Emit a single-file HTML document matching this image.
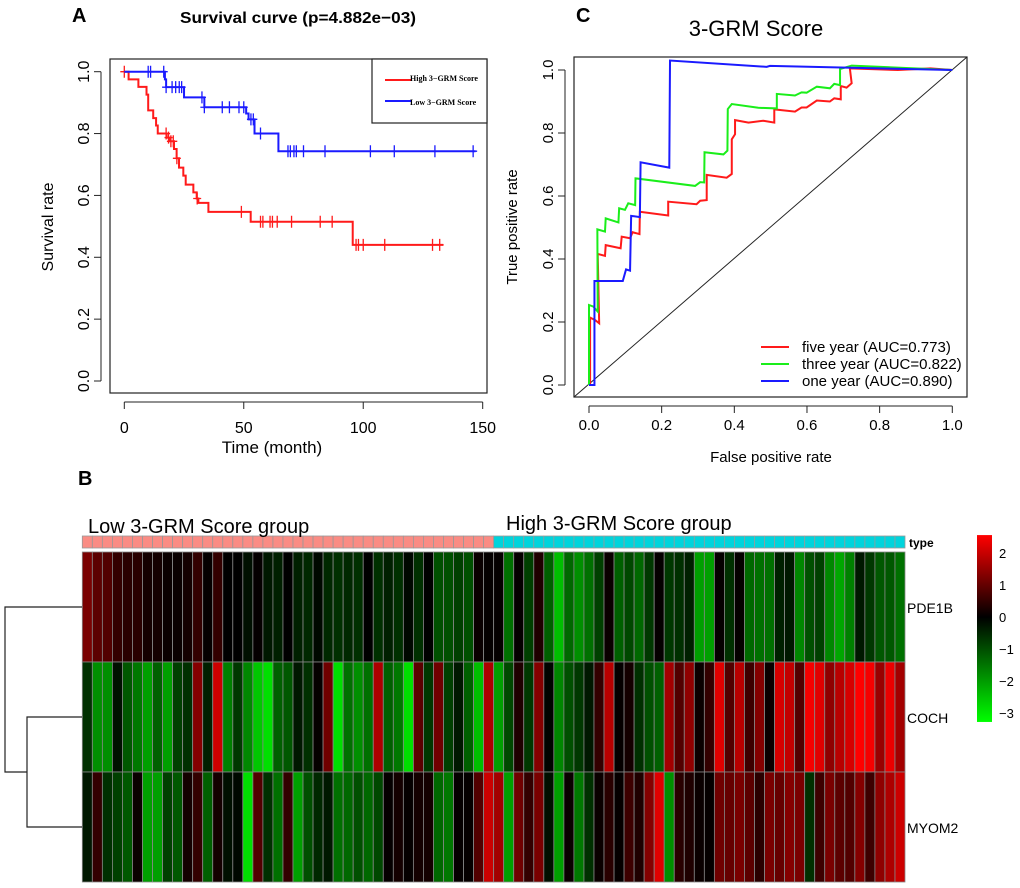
<!DOCTYPE html>
<html><head><meta charset="utf-8"><style>
body{margin:0;background:#fff}
svg{display:block;font-family:"Liberation Sans",sans-serif}
</style></head><body>
<svg id="fig" width="1020" height="888" viewBox="0 0 1020 888">
<g id="km"></g>
<g id="roc"></g>
<g id="hm"></g>
</svg>
<script>
// ---- KM data ----
const kmHighSteps = [[0,1],[1.8,0.975],[5.9,0.951],[9.3,0.926],[10,0.875],[12.1,0.85],[13.3,0.826],[14,0.80],[17.7,0.787],[19,0.775],[20.8,0.75],[21.9,0.72],[22.9,0.69],[24.7,0.664],[25.7,0.635],[28.9,0.61],[30.3,0.59],[31,0.576],[35.2,0.547],[52.9,0.515],[95.6,0.44]];
const kmHighEnd = 133.5;
const kmHighCensor = [0,17.5,18.5,19.5,20.5,22,30.5,49,57,58,61,62,64,70,82,87,97,98,100,109,129,132];
const kmLowSteps = [[0,1],[17,0.975],[17.5,0.95],[25,0.917],[33.5,0.885],[51,0.865],[52,0.846],[54.5,0.80],[64.5,0.743]];
const kmLowEnd = 147;
const kmLowCensor = [10,11,16.5,17.5,20,21.5,23,24,32.5,33.5,41,44,48,50,53,54,57,68.5,69.5,71,72,75,84,103,113,130,146];
const kmXTicks = [0,50,100,150];
const kmYTicks = [0,0.2,0.4,0.6,0.8,1.0];
// ---- ROC data ----
const rocFive = [[0,0],[0.003,0],[0.003,0.214],[0.017,0.206],[0.028,0.196],[0.024,0.416],[0.044,0.41],[0.046,0.444],[0.087,0.434],[0.09,0.471],[0.113,0.466],[0.12,0.485],[0.139,0.479],[0.14,0.55],[0.218,0.538],[0.218,0.582],[0.296,0.574],[0.306,0.585],[0.324,0.587],[0.324,0.667],[0.379,0.658],[0.393,0.67],[0.393,0.78],[0.402,0.796],[0.402,0.841],[0.439,0.833],[0.48,0.839],[0.51,0.833],[0.51,0.875],[0.567,0.868],[0.585,0.881],[0.599,0.881],[0.627,0.903],[0.663,0.9],[0.675,0.91],[0.693,0.907],[0.693,0.949],[0.709,0.944],[0.723,0.958],[0.718,1.005],[0.85,1.0],[0.94,1.005],[1,1]];
const rocThree = [[0,0],[0,0.254],[0.012,0.249],[0.024,0.233],[0.023,0.494],[0.044,0.487],[0.046,0.529],[0.081,0.516],[0.083,0.561],[0.099,0.556],[0.108,0.577],[0.127,0.571],[0.128,0.656],[0.292,0.632],[0.306,0.644],[0.317,0.643],[0.318,0.739],[0.37,0.732],[0.381,0.744],[0.382,0.876],[0.393,0.892],[0.466,0.88],[0.517,0.878],[0.517,0.924],[0.567,0.919],[0.585,0.929],[0.599,0.928],[0.627,0.947],[0.663,0.942],[0.675,0.956],[0.691,0.952],[0.691,1.003],[0.723,1.014],[1,1]];
const rocOne = [[0,0],[0.015,0],[0.015,0.33],[0.093,0.33],[0.102,0.367],[0.113,0.363],[0.116,0.537],[0.14,0.533],[0.142,0.707],[0.221,0.69],[0.223,1.03],[0.489,1.01],[0.498,1.013],[1,1]];
const rocTicks = [0,0.2,0.4,0.6,0.8,1.0];
const rocLabels = ["five year (AUC=0.773)","three year (AUC=0.822)","one year (AUC=0.890)"];
// ---- Heatmap data ----
const genes = ["PDE1B","COCH","MYOM2"];
const groupLow = 41, groupHigh = 41;
const pde1b = [1.2,0.9,0.8,0.5,0.4,0.4,0.2,0.2,0.1,0.1,0.2,0.5,0.05,0.5,0,0,-0.2,0.05,-0.3,-0.4,0,-0.4,-0.5,-0.1,-0.5,-0.6,-0.5,-0.6,0,-0.6,-0.4,-0.6,-0.1,-0.6,0,-1,-1,-0.8,-1,0.1,0.05,
 0.05,-1.4,0.05,-0.8,0.3,-1.2,-2.4,-1.3,-1.8,-1.4,-0.8,0.1,-1.2,-0.9,-1.3,-0.7,0.05,-0.7,-0.6,-0.4,-2,-2,0.05,-0.6,0.05,-1.3,-1.4,-1.4,-0.4,-0.3,-1.7,-1,-0.8,-1.7,-2.1,-1.6,-0.3,-0.7,-1.1,-1.1,-1.4];
const coch = [-0.6,-1.8,-1.8,-0.2,-1.1,-1.5,-2,-1.2,-2,-0.8,-0.6,1.3,-0.4,2,-1.6,-0.7,-1.7,-2.5,-2.8,-1.2,-1.1,-0.3,-0.6,0.05,1.1,-2.8,-1.4,-1.8,-1.4,1.7,-1.2,-1.5,-2.8,0.9,-0.7,1.1,-0.8,-0.3,-1.2,-2.4,1.7,
 -2,-0.9,0.3,-0.7,1.3,-0.05,-1.7,-1,-0.7,-0.3,0.5,1.8,0.05,0.2,-0.6,-1,-1.2,1.6,0.8,1.4,0.1,0.5,2.2,0.8,1.8,0.6,1.3,0.1,2.1,1.9,0.8,2.4,2.2,1.4,1.8,2.1,2.5,2.4,1.5,2.3,1.6];
const myom2 = [-0.3,0.5,-0.6,-0.8,-1.1,0.1,-2,-2,-0.8,-1.1,0.2,0.5,-1.2,0.2,-0.2,-0.1,-2.8,0.8,-0.6,-1.4,0.5,-2,-1,-0.5,-0.3,-1.4,-1.3,-1,-1.3,-0.9,0.05,0.2,0.05,0.2,0.2,-1.3,-1.5,0.05,0.05,0.8,2,
 1.6,-2,1.1,0.5,1.2,-0.2,-2,0.1,-1.5,-0.6,0.1,0.4,0.05,0.6,0.3,1.3,2.2,-1.8,0.4,0.3,0.1,0.05,1.1,1.0,1.2,0.9,0.4,1.2,1.0,1.3,1.2,-0.6,0.6,1.2,0.9,0.8,1.3,0.6,1.4,1.7,2.0];
const keyTicks = [2,1,0,-1,-2,-3];

const NS="http://www.w3.org/2000/svg";
function mk(parent,tag,attrs,text){const e=document.createElementNS(NS,tag);for(const k in attrs)e.setAttribute(k,attrs[k]);if(text!==undefined)e.textContent=text;parent.appendChild(e);return e;}

// ===== KM =====
(function(){
 const g=document.getElementById('km');
 const sx=t=>124.3+t*(358.4/150), sy=v=>381-v*309.3;
 let e;
 e=mk(g,'rect',{x:110,y:59,width:377,height:334,fill:'none',stroke:'#222','stroke-width':1.2});
 
 e=mk(g,'text',{x:72,y:22,'font-size':20,'font-weight':'bold'},'A');
 
 e=mk(g,'text',{x:298,y:23,'font-size':16,'font-weight':'bold','text-anchor':'middle',textLength:236,lengthAdjust:'spacingAndGlyphs'},'Survival curve (p=4.882e\u221203)');
 
 mk(g,'line',{x1:sx(0),x2:sx(150),y1:402,y2:402,stroke:'#222'});
 kmXTicks.forEach(t=>{mk(g,'line',{x1:sx(t),x2:sx(t),y1:402,y2:409,stroke:'#222'});
  e=mk(g,'text',{x:sx(t),y:433,'font-size':16,'text-anchor':'middle'},String(t));
  });
 mk(g,'line',{x1:101,x2:101,y1:sy(0),y2:sy(1),stroke:'#222'});
 kmYTicks.forEach(t=>{mk(g,'line',{x1:94,x2:101,y1:sy(t),y2:sy(t),stroke:'#222'});
  e=mk(g,'text',{x:0,y:0,'font-size':16,'text-anchor':'middle',transform:`translate(89,${sy(t)}) rotate(-90)`},t.toFixed(1));
  });
 e=mk(g,'text',{x:0,y:0,'font-size':16,'text-anchor':'middle',transform:'translate(53,227) rotate(-90)'},'Survival rate');
 
 e=mk(g,'text',{x:272,y:453,'font-size':17,'text-anchor':'middle'},'Time (month)');
 
 function curve(steps,end,cens,col,name){
  let d=`M${sx(steps[0][0])},${sy(steps[0][1])}`;
  for(let i=1;i<steps.length;i++){d+=`H${sx(steps[i][0])}V${sy(steps[i][1])}`;}
  d+=`H${sx(end)}`;
  const p=mk(g,'path',{d:d,fill:'none',stroke:col,'stroke-width':2});
  
  cens.forEach(t=>{let v=steps[0][1];steps.forEach(s=>{if(s[0]<=t)v=s[1];});
   const c=mk(g,'path',{d:`M${sx(t)-4},${sy(v)}h8M${sx(t)},${sy(v)-6}v12`,stroke:col,'stroke-width':1.3});
   });
 }
 curve(kmHighSteps,kmHighEnd,kmHighCensor,'#ff1a1a','high-score');
 curve(kmLowSteps,kmLowEnd,kmLowCensor,'#1a1aff','low-score');
 e=mk(g,'rect',{x:372,y:59,width:115,height:64,fill:'#fff',stroke:'#222','stroke-width':1.2});
 
 mk(g,'line',{x1:385,x2:412,y1:80,y2:80,stroke:'#ff1a1a','stroke-width':2});
 mk(g,'line',{x1:385,x2:412,y1:101,y2:101,stroke:'#1a1aff','stroke-width':2});
 e=mk(g,'text',{x:410,y:81,'font-size':8,'font-weight':'bold','font-family':'Liberation Serif, serif'},'High 3\u2212GRM Score');
 
 e=mk(g,'text',{x:410,y:105,'font-size':8,'font-weight':'bold','font-family':'Liberation Serif, serif'},'Low 3\u2212GRM Score');
 
})();

// ===== ROC =====
(function(){
 const g=document.getElementById('roc');
 const sx=v=>589+v*363.3, sy=v=>385-v*315;
 let e;
 e=mk(g,'rect',{x:574,y:57,width:393,height:340,fill:'none',stroke:'#222','stroke-width':1.2});
 
 e=mk(g,'text',{x:576,y:22,'font-size':20,'font-weight':'bold'},'C');
 
 e=mk(g,'text',{x:756,y:36,'font-size':22,'text-anchor':'middle'},'3-GRM Score');
 
 e=mk(g,'line',{x1:574,y1:397,x2:967,y2:57,stroke:'#222','stroke-width':1});
 
 mk(g,'line',{x1:sx(0),x2:sx(1),y1:406,y2:406,stroke:'#222'});
 mk(g,'line',{x1:565,x2:565,y1:sy(0),y2:sy(1),stroke:'#222'});
 rocTicks.forEach(t=>{
  mk(g,'line',{x1:sx(t),x2:sx(t),y1:406,y2:413,stroke:'#222'});
  e=mk(g,'text',{x:sx(t),y:430,'font-size':15,'text-anchor':'middle'},t.toFixed(1));
  
  mk(g,'line',{x1:558,x2:565,y1:sy(t),y2:sy(t),stroke:'#222'});
  e=mk(g,'text',{x:0,y:0,'font-size':15,'text-anchor':'middle',transform:`translate(553,${sy(t)}) rotate(-90)`},t.toFixed(1));
  
 });
 e=mk(g,'text',{x:771,y:462,'font-size':15,'text-anchor':'middle'},'False positive rate');
 
 e=mk(g,'text',{x:0,y:0,'font-size':15,'text-anchor':'middle',transform:'translate(517,227) rotate(-90)'},'True positive rate');
 
 const series=[[rocFive,'#ff1a1a','roc-five-year'],[rocThree,'#1aee1a','roc-three-year'],[rocOne,'#1a1aff','roc-one-year']];
 series.forEach(s=>{
  const p=mk(g,'polyline',{points:s[0].map(q=>sx(q[0])+','+sy(q[1])).join(' '),fill:'none',stroke:s[1],'stroke-width':2});
  
 });
 series.forEach((s,i)=>{
  const y=347+i*17;
  mk(g,'line',{x1:761,x2:789,y1:y,y2:y,stroke:s[1],'stroke-width':2});
  const t=mk(g,'text',{x:802,y:y+5,'font-size':15},rocLabels[i]);
  
 });
})();

// ===== Heatmap =====
(function(){
 const g=document.getElementById('hm');
 let e;
 e=mk(g,'text',{x:78,y:485,'font-size':20,'font-weight':'bold'},'B');
 
 const rows=[pde1b,coch,myom2];
 const n=pde1b.length, x0=82.3, x1=905, cw=(x1-x0)/n;
 const ry=[552,662,772], rh=110;
 function col(v){
  if(v>=0){const r=Math.round(Math.min(v/2.5,1)*255);return `rgb(${r},0,0)`;}
  const gg=Math.round(Math.min(-v/3.2,1)*255);return `rgb(0,${gg},0)`;
 }
 for(let i=0;i<n;i++){
  const c=mk(g,'rect',{x:x0+i*cw,y:536,width:cw,height:12,fill:i<groupLow?'#fa8c84':'#00d4dc',stroke:'#999','stroke-width':0.8});
  
 }
 rows.forEach((arr,r)=>{
  arr.forEach((v,i)=>{
   const c=mk(g,'rect',{x:x0+i*cw,y:ry[r],width:cw,height:rh,fill:col(v),stroke:'#888','stroke-width':0.8});
   
  });
  const t=mk(g,'text',{x:907,y:ry[r]+rh/2+6,'font-size':14},genes[r]);
  
 });
 e=mk(g,'text',{x:88,y:533,'font-size':20},'Low 3-GRM Score group');
 
 e=mk(g,'text',{x:506,y:530,'font-size':20},'High 3-GRM Score group');
 
 e=mk(g,'text',{x:909,y:547,'font-size':12,'font-weight':'bold'},'type');
 
 e=mk(g,'path',{d:'M82,607H5V772H27M82,717H27V827H82',fill:'none',stroke:'#222','stroke-width':1.2});
 
 const defs=mk(g,'defs',{});
 const lg=mk(defs,'linearGradient',{id:'kg',x1:0,y1:0,x2:0,y2:1});
 const vt=2.56, vb=-3.28;
 [[vt],[0],[vb]].forEach(a=>{mk(lg,'stop',{offset:(vt-a[0])/(vt-vb),'stop-color':col(a[0])});});
 const ky=v=>617-32*v;
 e=mk(g,'rect',{x:977,y:ky(vt),width:15,height:ky(vb)-ky(vt),fill:'url(#kg)'});
 
 keyTicks.forEach(t=>{
  const tx=mk(g,'text',{x:999,y:ky(t)+5,'font-size':13},t<0?'\u2212'+(-t):String(t));
  
 });
})();
</script>
</body></html>
